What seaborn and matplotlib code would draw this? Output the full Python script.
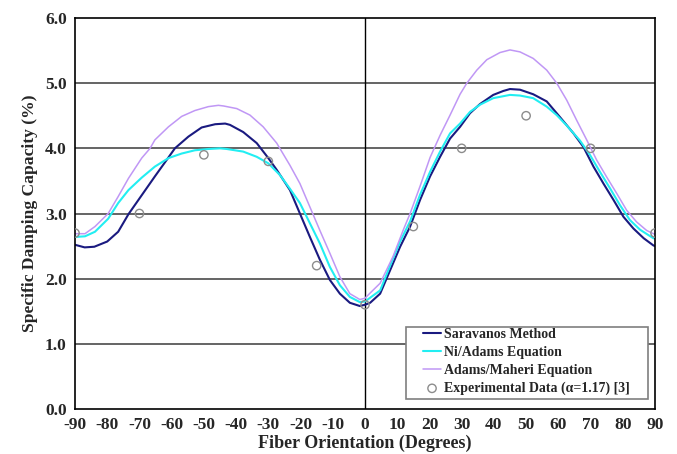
import matplotlib
matplotlib.use("Agg")
import matplotlib.pyplot as plt
import seaborn as sns
import numpy as np
import pandas as pd
from matplotlib.ticker import FormatStrFormatter
from matplotlib.patches import Rectangle

# ---- data ----
saravanos_deg = [-90, -87, -84, -80, -76.6, -73.4, -69.3, -65.2, -61.0, -59.0, -54.8, -50.7, -46.5, -43.4,
                 -41.9, -37.8, -33.6, -30, -27.4, -23.3, -20.2, -17.1, -14.0, -10.9, -7.8, -4.7, -1.6, 0,
                 1.6, 4.7, 7.8, 10.9, 14.0, 17.1, 20.2, 23.3, 26.4, 29.5, 32.6, 35.7, 39.8, 42.9, 45,
                 48.1, 52.2, 56.4, 60.5, 64.7, 67.8, 70.9, 74.0, 77.1, 80.2, 83.3, 86.5, 89.5, 90]
saravanos_val = [2.52, 2.48, 2.49, 2.57, 2.72, 2.99, 3.28, 3.57, 3.86, 4.00, 4.18, 4.32, 4.37, 4.38,
                 4.36, 4.25, 4.08, 3.85, 3.67, 3.36, 3.00, 2.64, 2.29, 1.98, 1.77, 1.63, 1.58, 1.60,
                 1.63, 1.77, 2.13, 2.49, 2.80, 3.21, 3.57, 3.87, 4.15, 4.33, 4.54, 4.68, 4.82, 4.88, 4.91,
                 4.90, 4.83, 4.72, 4.48, 4.23, 4.02, 3.72, 3.46, 3.21, 2.95, 2.77, 2.62, 2.51, 2.50]

ni_adams_deg = [-90, -86.9, -83.8, -79.7, -76.6, -73.4, -69.3, -65.2, -61.0, -56.9, -52.8, -48.6, -45,
                -42.9, -37.8, -33.6, -30, -26.4, -23.3, -20.2, -17.1, -14.0, -10.9, -7.8, -4.7, -1.6, 0,
                4.7, 7.8, 10.9, 14.0, 17.1, 20.2, 23.3, 26.4, 29.5, 32.6, 35.7, 39.8, 45,
                48.1, 52.2, 56.4, 59.5, 62.6, 66.7, 69.8, 72.9, 76.0, 79.1, 82.2, 85.4, 89.5, 90]
ni_adams_val = [2.64, 2.65, 2.72, 2.92, 3.16, 3.36, 3.55, 3.72, 3.85, 3.92, 3.97, 3.99, 4.00,
                3.99, 3.95, 3.87, 3.77, 3.59, 3.38, 3.16, 2.85, 2.54, 2.18, 1.90, 1.72, 1.64, 1.65,
                1.82, 2.20, 2.57, 2.88, 3.29, 3.64, 3.95, 4.23, 4.38, 4.56, 4.67, 4.77, 4.82,
                4.81, 4.77, 4.64, 4.51, 4.35, 4.12, 3.90, 3.64, 3.39, 3.13, 2.90, 2.75, 2.62, 2.62]

adams_maheri_deg = [-90, -86.9, -83.8, -79.7, -76.6, -73.4, -69.3, -66.7, -65.2, -61.0, -56.9, -52.8, -48.6, -45.5,
                    -43.9, -39.8, -35.7, -31.6, -27.4, -23.3, -20.2, -17.1, -14.0, -10.9, -7.8, -4.7, -1.6, 0,
                    1.6, 4.7, 8.7, 11.9, 14.0, 17.1, 20.2, 23.3, 26.4, 29.5, 31.6, 34.7, 37.8, 41.9, 45,
                    48.1, 52.2, 56.4, 59.5, 62.6, 65.7, 68.8, 71.9, 75.0, 78.1, 81.2, 84.3, 87.4, 89.5, 90]
adams_maheri_val = [2.69, 2.69, 2.80, 3.00, 3.26, 3.54, 3.85, 4.00, 4.13, 4.33, 4.49, 4.58, 4.64, 4.66,
                    4.65, 4.61, 4.51, 4.33, 4.08, 3.74, 3.46, 3.10, 2.74, 2.39, 2.03, 1.77, 1.68, 1.70,
                    1.78, 1.93, 2.34, 2.75, 3.00, 3.42, 3.86, 4.20, 4.51, 4.83, 5.00, 5.20, 5.36, 5.47, 5.51,
                    5.48, 5.38, 5.20, 5.00, 4.74, 4.43, 4.13, 3.82, 3.56, 3.31, 3.05, 2.87, 2.74, 2.69, 2.68]

exp_angles = [-90, -70, -50, -30, -15, 0, 15, 30, 50, 70, 90]
exp_values = [2.7, 3.0, 3.9, 3.8, 2.2, 1.6, 2.8, 4.0, 4.5, 4.0, 2.7]
x_ticks = list(range(-90, 91, 10))
y_ticks = [0.0, 1.0, 2.0, 3.0, 4.0, 5.0, 6.0]

sns.set_theme(style="white")
plt.rcParams['font.family'] = ['Liberation Serif', 'DejaVu Serif']
plt.rcParams['font.weight'] = 'bold'
plt.rcParams['axes.unicode_minus'] = False

fig = plt.figure(figsize=(6.77, 4.54), dpi=100)
ax = fig.add_axes([75/677, 1 - 409/454, (655-75)/677, (409-18)/454])

for y in y_ticks[1:-1]:
    ax.axhline(y, color='#3a3a3a', lw=1.1, zorder=0)
ax.axvline(0, color='black', lw=1.0, zorder=0)

sns.lineplot(x=saravanos_deg, y=saravanos_val, ax=ax, color='#1a1a80', lw=1.5,
             label='Saravanos Method', sort=False)
sns.lineplot(x=ni_adams_deg, y=ni_adams_val, ax=ax, color='#22eef2', lw=1.5,
             label='Ni/Adams Equation', sort=False)
sns.lineplot(x=adams_maheri_deg, y=adams_maheri_val, ax=ax, color='#c097f5', lw=1.1,
             label='Adams/Maheri Equation', sort=False)
sns.scatterplot(x=exp_angles, y=exp_values, ax=ax, marker='o', s=36, facecolors='none',
                edgecolor='#8c8c8c', linewidth=1.0, label='Experimental Data (\u03b1=1.17) [3]', zorder=5)

ax.set_xlim(-90, 90)
ax.set_ylim(0, 6)
ax.set_xticks(x_ticks)
ax.set_yticks(y_ticks)
ax.yaxis.set_major_formatter(FormatStrFormatter('%.1f'))
ax.tick_params(axis='both', direction='out', length=4, width=1, color='black', labelsize=12.5, pad=2)
for lab in ax.get_xticklabels() + ax.get_yticklabels():
    lab.set_fontweight('bold')
for sp in ax.spines.values():
    sp.set_color('black')
    sp.set_linewidth(1.2)

ax.set_xlabel('Fiber Orientation (Degrees)', fontsize=13, fontweight='bold', labelpad=1)
ax.set_ylabel('Specific Damping Capacity (%)', fontsize=12.6, fontweight='bold', labelpad=5)

# legend box
ax.add_patch(Rectangle((0.5707, 0.0256), 0.9879 - 0.5707, 0.2097 - 0.0256, transform=ax.transAxes,
                       facecolor='white', edgecolor='#7f7f7f', lw=1.2, zorder=6))
leg = ax.legend(loc='upper left', bbox_to_anchor=(0.600, 0.208), frameon=False,
                prop={'weight': 'bold', 'size': 10, 'family': 'Liberation Serif'},
                handlelength=1.3, handletextpad=0.2, labelspacing=0.36, borderpad=0, borderaxespad=0)
leg.set_zorder(7)

fig.savefig('out.png', dpi=100)
